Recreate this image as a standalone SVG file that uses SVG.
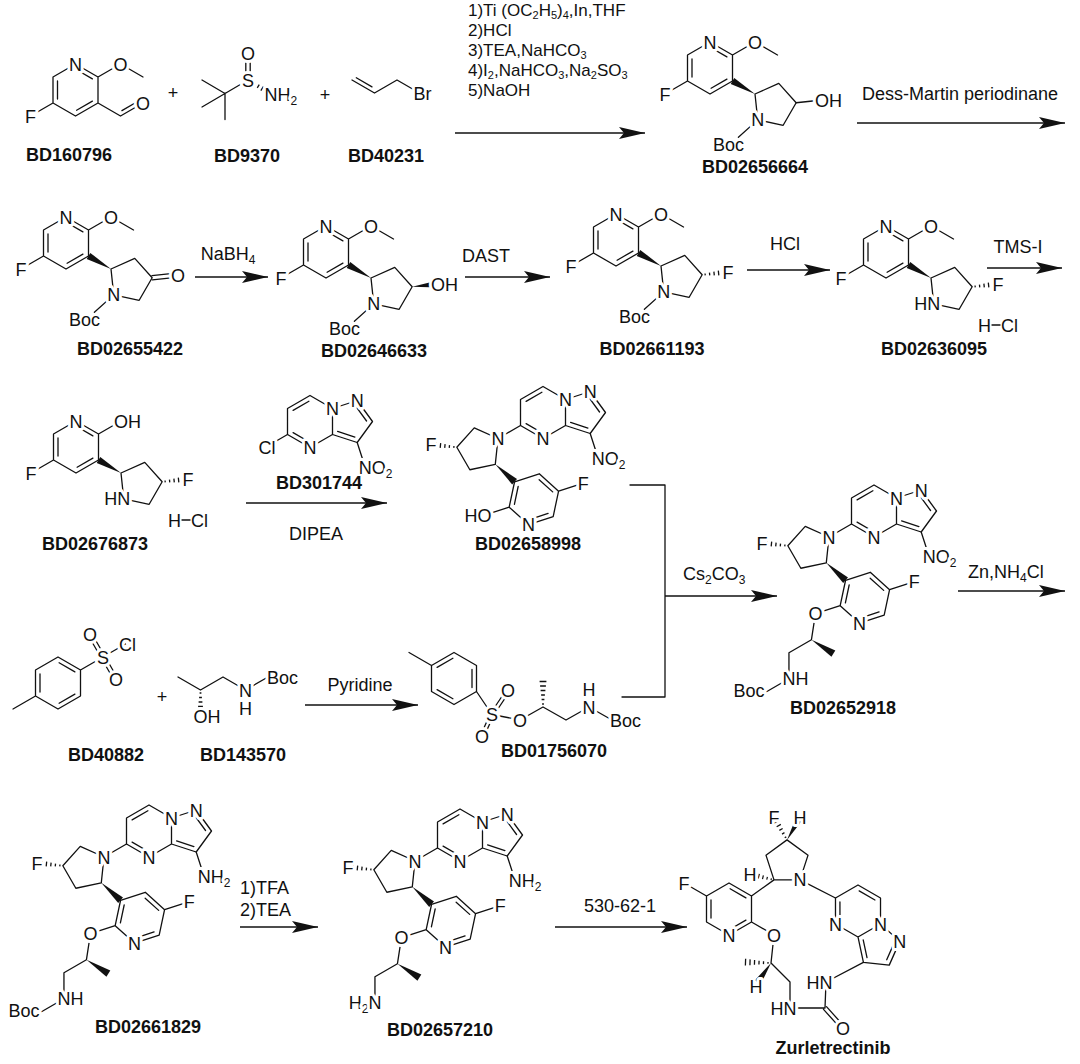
<svg xmlns="http://www.w3.org/2000/svg" width="1080" height="1064" viewBox="0 0 1080 1064">
<style>
.b{fill:none;stroke:#111;stroke-width:1.3;stroke-linecap:round;stroke-linejoin:round}
.t{font-family:"Liberation Sans",Arial,"DejaVu Sans",sans-serif;font-size:18px;fill:#111}
.r{font-size:17px}
.r .s{font-size:11px}
.l{stroke:#fff;stroke-width:6px;stroke-linejoin:round;paint-order:stroke fill}
.m{text-anchor:middle}
.e{text-anchor:end}
.id{font-weight:bold}
.s{font-size:12px}
.w{fill:#fff}
.ar{fill:none;stroke:#111;stroke-width:1.3;marker-end:url(#ah)}
</style>
<defs>
<marker id="ah" viewBox="0 0 26 13" refX="26" refY="6.5" markerWidth="26" markerHeight="13" markerUnits="userSpaceOnUse" orient="auto"><path d="M0,0.5L26,6.5L0,12.5L5,6.5Z" fill="#111"/></marker>
<g id="hw"><path d="M3,-0.9V0.9M7.5,-1.4V1.4M12,-1.9V1.9M16.5,-2.4V2.4M21,-2.9V2.9M25.5,-3.4V3.4" fill="none" stroke="#111" stroke-width="1.3"/></g>
<polygon id="bw" points="0,0 26,-3.6 26,3.6" fill="#111"/>
<g id="core"><path fill="none" stroke="#111" stroke-width="1.3" stroke-linejoin="round" stroke-linecap="round" d="M0,-26L22.5,-13L22.5,13L0,26L-22.5,13L-22.5,-13Z M1.1,-20.2L16.9,-11.1 M16.9,11.1L1.1,20.2 M-18,9.1L-18,-9.1 M-22.5,13L-45,26 M22.5,-13L45,-26 M45,26L68.76,15.42L86.16,34.75L73.16,57.27L47.72,51.86Z"/><use href="#bw" transform="translate(45,26) rotate(210)"/></g>
<g id="pzp"><path fill="none" stroke="#111" stroke-width="1.3" stroke-linejoin="round" stroke-linecap="round" d="M0,-26L22.5,-13L22.5,13L0,26L-22.5,13L-22.5,-13Z M22.5,-13L47.2,-21L62.5,0L47.2,21L22.5,13 M-1.1,-20.2L-16.9,-11.1 M-16.9,11.1L-1.1,20.2 M27.6,9.92L44.9,15.52 M45.86,-15.2L56.56,-0.5"/></g>
<g id="tri"><use href="#pzp"/><path fill="none" stroke="#111" stroke-width="1.3" stroke-linejoin="round" stroke-linecap="round" d="M47.2,21L55.2,45.7 M-22.5,13L-45,26 M-45,26L-47.72,51.86L-73.16,57.26L-86.16,34.75L-68.76,15.42Z M-28.42,69.26L-3.72,61.26L15.58,78.66L10.18,104.06L-14.52,112.06L-33.82,94.66Z M-28.61,91.79L-24.83,74.01 M-3.84,67.21L9.68,79.39 M5.09,100.98L-12.21,106.58 M15.58,78.66L40.31,70.63 M-33.82,94.66L-58.55,102.69"/><use href="#hw" transform="translate(-86.16,34.75) rotate(186)"/><use href="#bw" transform="translate(-47.72,51.86) rotate(42)"/></g>
<g id="chain"><path fill="none" stroke="#111" stroke-width="1.3" stroke-linejoin="round" stroke-linecap="round" d="M-58.55,102.69L-62.55,128.69L-85.05,141.69L-85.05,167.69"/><use href="#bw" transform="translate(-62.55,128.69) rotate(32.5)"/></g>
</defs>
<rect width="1080" height="1064" fill="#fff"/>

<g id="connectors">
<path class="ar" d="M455,133H645"/>
<path class="ar" d="M857,123H1065"/>
<path class="ar" d="M195,277H268"/>
<path class="ar" d="M465,277H550"/>
<path class="ar" d="M747,270H830"/>
<path class="ar" d="M987,268H1062"/>
<path class="ar" d="M246,503H387"/>
<path class="b" d="M630,485H665V697H622"/>
<path class="ar" d="M665,596H777"/>
<path class="ar" d="M958,591H1065"/>
<path class="ar" d="M305,705H418"/>
<path class="ar" d="M240,927H318"/>
<path class="ar" d="M555,927H687"/>
<text class="t r" x="468" y="16">1)Ti (OC<tspan class="s" dy="3">2</tspan><tspan dy="-3">H</tspan><tspan class="s" dy="3">5</tspan><tspan dy="-3">)</tspan><tspan class="s" dy="3">4</tspan><tspan dy="-3">,In,THF</tspan></text>
<text class="t r" x="468" y="36">2)HCl</text>
<text class="t r" x="468" y="56">3)TEA,NaHCO<tspan class="s" dy="3">3</tspan></text>
<text class="t r" x="468" y="76">4)I<tspan class="s" dy="3">2</tspan><tspan dy="-3">,NaHCO</tspan><tspan class="s" dy="3">3</tspan><tspan dy="-3">,Na</tspan><tspan class="s" dy="3">2</tspan><tspan dy="-3">SO</tspan><tspan class="s" dy="3">3</tspan></text>
<text class="t r" x="468" y="96">5)NaOH</text>
<text class="t" x="862" y="99.5">Dess-Martin periodinane</text>
<text class="t m" x="228" y="260">NaBH<tspan class="s" dy="4">4</tspan></text>
<text class="t m" x="486" y="262">DAST</text>
<text class="t m" x="785" y="250">HCl</text>
<text class="t m" x="1018" y="253">TMS-I</text>
<text class="t m" x="316" y="540">DIPEA</text>
<text class="t" x="683" y="580">Cs<tspan class="s" dy="4">2</tspan><tspan dy="-4">CO</tspan><tspan class="s" dy="4">3</tspan></text>
<text class="t" x="968" y="578">Zn,NH<tspan class="s" dy="4">4</tspan><tspan dy="-4">Cl</tspan></text>
<text class="t m" x="360" y="691">Pyridine</text>
<text class="t" x="240" y="894">1)TFA</text>
<text class="t" x="240" y="916">2)TEA</text>
<text class="t m" x="620" y="912">530-62-1</text>
</g>

<g id="plus">
<text class="t m" x="173" y="99">+</text>
<text class="t m" x="325" y="101">+</text>
<text class="t m" x="162" y="703">+</text>
</g>

<g id="BD160796" transform="translate(75.5,90)">
<path class="b" d="M0,-26L22.5,-13L22.5,13L0,26L-22.5,13L-22.5,-13Z M1.1,-20.2L16.9,-11.1 M16.9,11.1L1.1,20.2 M-18,9.1L-18,-9.1 M-22.5,13L-45,26 M22.5,-13L45,-26L67.5,-13 M22.5,13L45,26L67.5,13 M46.4,20.6L62.1,11.5"/>
<circle class="w" cx="45" cy="-26" r="7.5"/><circle class="w" cx="67.5" cy="13" r="7.5"/>
<text class="t l m" x="0" y="-19.5">N</text>
<text class="t l m" x="-45" y="32.5">F</text>
<text class="t l m" x="45" y="-19.5">O</text>
<text class="t l m" x="67.5" y="19.5">O</text>
<text class="t id m" x="-6.5" y="71">BD160796</text>
</g>

<g id="BD9370">
<path class="b" d="M245.8,53V80 M250.2,53V80 M248,80L225,93.5L202,80 M225,93.5L202,107 M225,93.5V119.5"/>
<use href="#hw" transform="translate(248,80) rotate(31.3)"/>
<circle class="w" cx="248" cy="53" r="7.5"/>
<text class="t l m" x="248" y="59.5">O</text>
<text class="t l m" x="248" y="86.5">S</text>
<text class="t l" x="264.5" y="100.5">NH<tspan class="s" dy="4">2</tspan></text>
<text class="t id m" x="247" y="162">BD9370</text>
</g>

<g id="BD40231">
<path class="b" d="M352,80L374.5,93L397,80L413,89.2 M356.3,77.8L372,86.9"/>
<text class="t l" x="413.5" y="99.5">Br</text>
<text class="t id m" x="386" y="162">BD40231</text>
</g>

<g id="BD02656664" transform="translate(710,68)">
<use href="#core"/>
<path class="b" d="M45,-26L67.5,-13 M47.72,51.86L28.4,69.3 M86.16,34.75L112,32"/>
<circle class="w" cx="45" cy="-26" r="7.5"/><circle class="w" cx="112" cy="32" r="7.5"/>
<text class="t l m" x="0" y="-19.5">N</text>
<text class="t l m" x="-45" y="32.5">F</text>
<text class="t l m" x="45" y="-19.5">O</text>
<text class="t l m" x="47.72" y="58.36">N</text>
<text class="t l e" x="34" y="83">Boc</text>
<text class="t l" x="105" y="38.5">OH</text>
<text class="t id m" x="45" y="105">BD02656664</text>
</g>

<g id="BD02655422" transform="translate(66,243)">
<use href="#core"/>
<path class="b" d="M45,-26L67.5,-13 M47.72,51.86L28.4,69.3 M86.39,36.94L112.23,34.19 M85.93,32.56L111.77,29.81"/>
<circle class="w" cx="45" cy="-26" r="7.5"/><circle class="w" cx="112" cy="32" r="7.5"/>
<text class="t l m" x="0" y="-19.5">N</text>
<text class="t l m" x="-45" y="32.5">F</text>
<text class="t l m" x="45" y="-19.5">O</text>
<text class="t l m" x="47.72" y="58.36">N</text>
<text class="t l e" x="34" y="83">Boc</text>
<text class="t l m" x="112" y="38.5">O</text>
<text class="t id m" x="64" y="112">BD02655422</text>
</g>

<g id="BD02646633" transform="translate(326,252)">
<use href="#core"/>
<path class="b" d="M45,-26L67.5,-13 M47.72,51.86L28.4,69.3"/>
<use href="#bw" transform="translate(86.16,34.75) rotate(-6)"/>
<circle class="w" cx="45" cy="-26" r="7.5"/><circle class="w" cx="112" cy="32" r="7.5"/>
<text class="t l m" x="0" y="-19.5">N</text>
<text class="t l m" x="-45" y="32.5">F</text>
<text class="t l m" x="45" y="-19.5">O</text>
<text class="t l m" x="47.72" y="58.36">N</text>
<text class="t l e" x="34" y="83">Boc</text>
<text class="t l" x="105" y="38.5">OH</text>
<text class="t id m" x="48" y="105">BD02646633</text>
</g>

<g id="BD02661193" transform="translate(616,240)">
<use href="#core"/>
<path class="b" d="M45,-26L67.5,-13 M47.72,51.86L28.4,69.3"/>
<use href="#hw" transform="translate(86.16,34.75) rotate(-6)"/>
<circle class="w" cx="45" cy="-26" r="7.5"/>
<text class="t l m" x="0" y="-19.5">N</text>
<text class="t l m" x="-45" y="32.5">F</text>
<text class="t l m" x="45" y="-19.5">O</text>
<text class="t l m" x="47.72" y="58.36">N</text>
<text class="t l e" x="34" y="83">Boc</text>
<text class="t l m" x="112" y="38.5">F</text>
<text class="t id m" x="36" y="115">BD02661193</text>
</g>

<g id="BD02636095" transform="translate(886,252)">
<use href="#core"/>
<path class="b" d="M45,-26L67.5,-13 M106,73H114"/>
<use href="#hw" transform="translate(86.16,34.75) rotate(-6)"/>
<circle class="w" cx="45" cy="-26" r="7.5"/>
<text class="t l m" x="0" y="-19.5">N</text>
<text class="t l m" x="-45" y="32.5">F</text>
<text class="t l m" x="45" y="-19.5">O</text>
<text class="t l e" x="54.2" y="58.36">HN</text>
<text class="t l m" x="112" y="38.5">F</text>
<text class="t m" x="98.5" y="79.5">H</text>
<text class="t" x="115" y="79.5">Cl</text>
<text class="t id m" x="48" y="103">BD02636095</text>
</g>

<g id="BD02676873" transform="translate(76,447)">
<use href="#core"/>
<path class="b" d="M106,73H114"/>
<use href="#hw" transform="translate(86.16,34.75) rotate(-6)"/>
<circle class="w" cx="45" cy="-26" r="7.5"/>
<text class="t l m" x="0" y="-19.5">N</text>
<text class="t l m" x="-45" y="32.5">F</text>
<text class="t l" x="38" y="-19.5">OH</text>
<text class="t l e" x="54.2" y="58.36">HN</text>
<text class="t l m" x="112" y="38.5">F</text>
<text class="t m" x="98.5" y="79.5">H</text>
<text class="t" x="115" y="79.5">Cl</text>
<text class="t id m" x="19" y="103">BD02676873</text>
</g>

<g id="BD301744" transform="translate(310,421.5)">
<use href="#pzp"/>
<path class="b" d="M47.2,21L55.2,45.7 M-22.5,13L-38,22"/>
<text class="t l m" x="22.5" y="-6.5">N</text>
<text class="t l m" x="47.2" y="-14.5">N</text>
<text class="t l m" x="0" y="32.5">N</text>
<text class="t l" x="48.7" y="52.2">NO<tspan class="s" dy="4">2</tspan></text>
<text class="t l" x="-51.5" y="32.5">Cl</text>
<text class="t id m" x="9" y="67.5">BD301744</text>
</g>

<g id="BD02658998" transform="translate(543,412.5)">
<use href="#tri"/>
<circle class="w" cx="-58.55" cy="102.69" r="7.5"/>
<text class="t l m" x="22.5" y="-6.5">N</text>
<text class="t l m" x="47.2" y="-14.5">N</text>
<text class="t l m" x="0" y="32.5">N</text>
<text class="t l" x="48.7" y="52.2">NO<tspan class="s" dy="4">2</tspan></text>
<text class="t l m" x="-45" y="32.5">N</text>
<text class="t l m" x="-112" y="38.5">F</text>
<text class="t l m" x="-14.52" y="118.56">N</text>
<text class="t l m" x="40.31" y="77.13">F</text>
<text class="t l e" x="-51.55" y="109.19">HO</text>
<text class="t id m" x="-15" y="137.5">BD02658998</text>
</g>

<g id="BD40882" transform="translate(58,683)">
<path class="b" d="M0,-26L22.5,-13L22.5,13L0,26L-22.5,13L-22.5,-13Z M1.1,-20.2L16.9,-11.1 M16.9,11.1L1.1,20.2 M-18,9.1L-18,-9.1 M-22.5,13L-45,26 M22.5,-13L45,-26 M46.73,-27L33.73,-49.5 M43.27,-25L30.27,-47.5 M45,-26L67.5,-39 M46.73,-27L59.73,-4.5 M43.27,-25L56.27,-2.5"/>
<circle class="w" cx="32" cy="-48.5" r="7.5"/><circle class="w" cx="58" cy="-3.5" r="7.5"/>
<text class="t l m" x="45" y="-19.5">S</text>
<text class="t l m" x="32" y="-42">O</text>
<text class="t l" x="61" y="-32.5">Cl</text>
<text class="t l m" x="58" y="3">O</text>
<text class="t id m" x="48" y="78">BD40882</text>
</g>

<g id="BD143570">
<path class="b" d="M178,677L200.5,690L223,677L245.5,690L268,677"/>
<use href="#hw" transform="translate(200.5,690) rotate(90)"/>
<circle class="w" cx="200.5" cy="716" r="7.5"/>
<text class="t l" x="193.5" y="722.5">OH</text>
<text class="t l m" x="245.5" y="696.5">N</text>
<text class="t l m" x="245.5" y="714.5">H</text>
<text class="t l" x="267" y="683.5">Boc</text>
<text class="t id m" x="243" y="761">BD143570</text>
</g>

<g id="BD01756070">
<path class="b" d="M454,652.5L476.5,665.5L476.5,691.5L454,704.5L431.5,691.5L431.5,665.5Z M472,669.4V687.6 M452.9,698.7L437.1,689.6 M437.1,667.4L452.9,658.3 M431.5,665.5L409,652.5 M476.5,691.5L492,714.5 M493.5,715.5L509.5,691.5 M490.5,713.5L506.5,689.5 M493.64,715.25L483.64,737.25 M490.36,713.75L480.36,735.75 M492,714.5L520,720L543,707L566,720L589,707L612,720"/>
<use href="#hw" transform="translate(543,707) rotate(-90)"/>
<circle class="w" cx="508" cy="690.5" r="7.5"/><circle class="w" cx="482" cy="736.5" r="7.5"/><circle class="w" cx="520" cy="720" r="7.5"/>
<text class="t l m" x="492" y="721">S</text>
<text class="t l m" x="508" y="697">O</text>
<text class="t l m" x="482" y="743">O</text>
<text class="t l m" x="520" y="726.5">O</text>
<text class="t l m" x="589" y="713.5">N</text>
<text class="t l m" x="589" y="695.5">H</text>
<text class="t l" x="610" y="727">Boc</text>
<text class="t id m" x="554" y="757">BD01756070</text>
</g>

<g id="BD02652918" transform="translate(874,511)">
<use href="#tri"/>
<use href="#chain"/>
<path class="b" d="M-85.05,167.69L-107.55,180.69"/>
<circle class="w" cx="-58.55" cy="102.69" r="7.5"/>
<text class="t l m" x="22.5" y="-6.5">N</text>
<text class="t l m" x="47.2" y="-14.5">N</text>
<text class="t l m" x="0" y="32.5">N</text>
<text class="t l" x="48.7" y="52.2">NO<tspan class="s" dy="4">2</tspan></text>
<text class="t l m" x="-45" y="32.5">N</text>
<text class="t l m" x="-112" y="38.5">F</text>
<text class="t l m" x="-14.52" y="118.56">N</text>
<text class="t l m" x="40.31" y="77.13">F</text>
<text class="t l m" x="-58.55" y="109.19">O</text>
<text class="t l" x="-91.55" y="174.19">NH</text>
<text class="t l e" x="-109.5" y="186">Boc</text>
<text class="t id m" x="-31" y="203">BD02652918</text>
</g>

<g id="BD02661829" transform="translate(149,831)">
<use href="#tri"/>
<use href="#chain"/>
<path class="b" d="M-85.05,167.69L-107.55,180.69"/>
<circle class="w" cx="-58.55" cy="102.69" r="7.5"/>
<text class="t l m" x="22.5" y="-6.5">N</text>
<text class="t l m" x="47.2" y="-14.5">N</text>
<text class="t l m" x="0" y="32.5">N</text>
<text class="t l" x="48.7" y="52.2">NH<tspan class="s" dy="4">2</tspan></text>
<text class="t l m" x="-45" y="32.5">N</text>
<text class="t l m" x="-112" y="38.5">F</text>
<text class="t l m" x="-14.52" y="118.56">N</text>
<text class="t l m" x="40.31" y="77.13">F</text>
<text class="t l m" x="-58.55" y="109.19">O</text>
<text class="t l" x="-91.55" y="174.19">NH</text>
<text class="t l e" x="-109.5" y="186">Boc</text>
<text class="t id m" x="-1" y="202">BD02661829</text>
</g>

<g id="BD02657210" transform="translate(460,835)">
<use href="#tri"/>
<use href="#chain"/>
<circle class="w" cx="-58.55" cy="102.69" r="7.5"/>
<text class="t l m" x="22.5" y="-6.5">N</text>
<text class="t l m" x="47.2" y="-14.5">N</text>
<text class="t l m" x="0" y="32.5">N</text>
<text class="t l" x="48.7" y="52.2">NH<tspan class="s" dy="4">2</tspan></text>
<text class="t l m" x="-45" y="32.5">N</text>
<text class="t l m" x="-112" y="38.5">F</text>
<text class="t l m" x="-14.52" y="118.56">N</text>
<text class="t l m" x="40.31" y="77.13">F</text>
<text class="t l m" x="-58.55" y="109.19">O</text>
<text class="t l e" x="-78.55" y="174.19">H<tspan class="s" dy="4">2</tspan><tspan dy="-4">N</tspan></text>
<text class="t id m" x="-20" y="201">BD02657210</text>
</g>

<g id="Zurletrectinib">
<use href="#pzp" transform="translate(858,911) rotate(60)"/>
<path class="b" d="M787,839.88L808.04,855.16L800,879.9L774,879.9L765.96,855.16Z M800,879.9L835.5,898 M774,879.9L751.5,896 M729,883L751.5,896L751.5,922L729,935L706.5,922L706.5,896Z M730.1,888.8L745.9,897.9 M745.9,920.1L730.1,929.2 M711,918.1V899.9 M706.5,896L684,883 M751.5,922L774,935L771,963L790,982L790,1008L825,1008 M826.49,1006.66L844.49,1026.66 M823.51,1009.34L841.51,1029.34 M825,1008L826,982L863.4,962.4"/>
<use href="#hw" transform="translate(787,839.88) rotate(-120)"/>
<use href="#bw" transform="translate(787,839.88) rotate(-60)"/>
<use href="#hw" transform="translate(774,879.9) rotate(193.8) scale(0.95,1)"/>
<use href="#hw" transform="translate(771,963) rotate(182)"/>
<use href="#bw" transform="translate(771,963) rotate(124.4) scale(0.9,1)"/>
<circle class="w" cx="774" cy="935" r="7.5"/><circle class="w" cx="843" cy="1028" r="7.5"/>
<text class="t l m" x="774" y="823.9">F</text>
<text class="t l m" x="800" y="823.9">H</text>
<text class="t l m" x="750" y="880.5">H</text>
<text class="t l m" x="800" y="886.4">N</text>
<text class="t l m" x="729" y="941.5">N</text>
<text class="t l m" x="684" y="889.5">F</text>
<text class="t l m" x="774" y="941.5">O</text>
<text class="t l m" x="756" y="992.5">H</text>
<text class="t l e" x="796.5" y="1014.5">HN</text>
<text class="t l m" x="843" y="1034.5">O</text>
<text class="t l e" x="832.5" y="988.5">HN</text>
<text class="t l m" x="835.5" y="930.5">N</text>
<text class="t l m" x="880.5" y="930.5">N</text>
<text class="t l m" x="899.8" y="947.9">N</text>
<text class="t id m" x="833" y="1054">Zurletrectinib</text>
</g>
</svg>
